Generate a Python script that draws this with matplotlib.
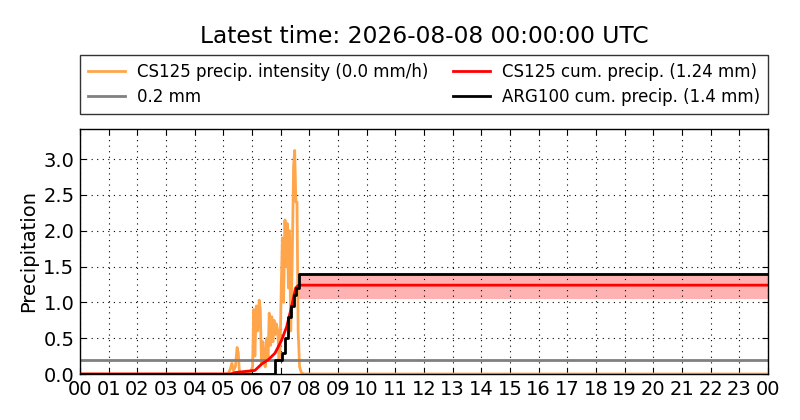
import matplotlib
matplotlib.use("Agg")
import matplotlib.pyplot as plt
import numpy as np

title = "Latest time: 2026-08-08 00:00:00 UTC"
xtick_labels = ["00", "01", "02", "03", "04", "05", "06", "07", "08", "09", "10", "11",
                "12", "13", "14", "15", "16", "17", "18", "19", "20", "21", "22", "23", "00"]

# CS125 precipitation intensity (mm/h), time in hours of day
int_t = [0.0, 5.17, 5.25, 5.30, 5.35, 5.42, 5.48, 5.52, 5.56, 5.65, 5.80, 5.95,
         6.02, 6.06, 6.10, 6.15, 6.20, 6.25, 6.29, 6.33, 6.38, 6.42, 6.46, 6.52,
         6.56, 6.60, 6.65, 6.69, 6.73, 6.77, 6.81, 6.85, 6.90, 6.94, 6.98, 7.02,
         7.06, 7.10, 7.15, 7.19, 7.23, 7.27, 7.31, 7.35, 7.40, 7.45, 7.49, 7.53,
         7.57, 7.61, 7.66, 7.72, 7.80, 24.0]
int_v = [0.0, 0.0, 0.08, 0.15, 0.05, 0.10, 0.37, 0.30, 0.03, 0.02, 0.02, 0.03,
         0.10, 0.90, 0.25, 0.95, 0.60, 1.03, 0.90, 0.15, 0.45, 0.30, 0.10, 0.50,
         0.20, 0.85, 0.40, 0.80, 0.45, 0.75, 0.55, 0.70, 0.60, 0.20, 0.35, 1.20,
         1.90, 1.00, 2.15, 1.50, 2.10, 1.20, 2.00, 0.60, 1.50, 2.90, 3.12, 2.40,
         2.40, 0.60, 0.10, 0.02, 0.0, 0.0]

# CS125 cumulative precipitation (mm)
cs_t = [0.0, 5.25, 5.40, 6.10, 6.34, 6.57, 6.80, 7.03, 7.21, 7.38, 7.52, 7.62, 24.0]
cs_v = [0.0, 0.0, 0.02, 0.05, 0.14, 0.20, 0.29, 0.47, 0.66, 0.94, 1.20, 1.24, 1.24]

# CS125 cumulative uncertainty band (mm)
band_t = [7.62, 24.0]
band_lo = [1.05, 1.05]
band_hi = [1.41, 1.41]

# ARG100 cumulative precipitation (mm), step
arg_t = [0.0, 6.81, 7.05, 7.14, 7.26, 7.37, 7.46, 7.55, 7.63, 24.0]
arg_v = [0.0, 0.2, 0.3, 0.5, 0.8, 0.95, 1.1, 1.2, 1.4, 1.4]

threshold = 0.2

fig = plt.figure(figsize=(8, 4.2), dpi=100)
ax = fig.add_axes([0.1, 0.1095, 0.86, 0.5835])

ax.fill_between(band_t, band_lo, band_hi, color="red", alpha=0.3, linewidth=0)
l1, = ax.plot(int_t, int_v, color="#FFA64D", lw=2, label="CS125 precip. intensity (0.0 mm/h)")
l2 = ax.axhline(threshold, color="gray", lw=2, label="0.2 mm")
l3, = ax.plot(cs_t, cs_v, color="red", lw=2, label="CS125 cum. precip. (1.24 mm)")
l4, = ax.step(arg_t, arg_v, where="post", color="black", lw=2, label="ARG100 cum. precip. (1.4 mm)")

ax.set_xlim(0, 24)
ax.set_ylim(0, 3.42)
ax.set_xticks(np.arange(0, 25))
ax.set_xticklabels(xtick_labels)
ax.set_yticks([0.0, 0.5, 1.0, 1.5, 2.0, 2.5, 3.0])
ax.set_yticklabels(["0.0", "0.5", "1.0", "1.5", "2.0", "2.5", "3.0"])
ax.tick_params(direction="in", top=True, right=True, labelsize=14, length=4, pad=4)
ax.grid(True, color="black", linestyle=(0, (1, 4)), linewidth=0.8)
ax.set_ylabel("Precipitation", fontsize=14)
for s in ax.spines.values():
    s.set_linewidth(1)

ax.set_title(title, fontsize=16.8, pad=62)

leg = ax.legend(handles=[l1, l2, l3, l4], ncol=2, loc="lower left",
                bbox_to_anchor=(0.0, 1.06, 1.0, 0.24), mode="expand",
                fontsize=12, frameon=True, fancybox=False, borderaxespad=0,
                handlelength=2.2, handletextpad=0.7, labelspacing=0.4, borderpad=0.5)
leg.get_frame().set_edgecolor("black")
leg.get_frame().set_linewidth(1)

fig.savefig("out.png", dpi=100)
